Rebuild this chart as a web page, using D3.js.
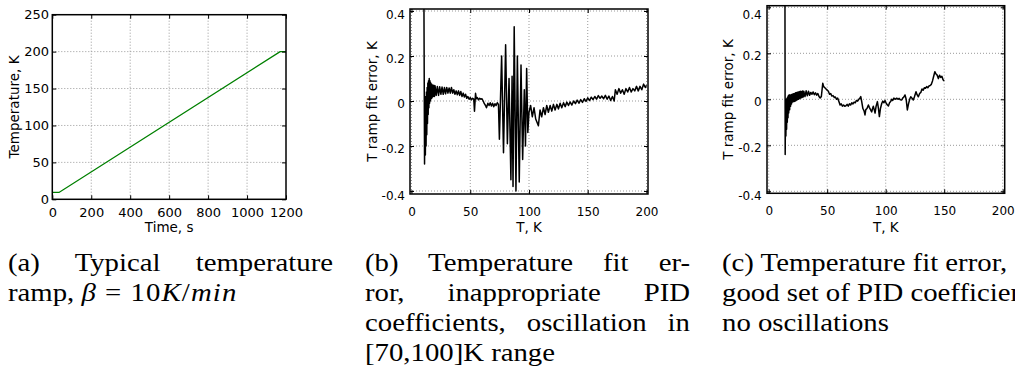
<!DOCTYPE html>
<html><head><meta charset="utf-8">
<script src="https://cdn.jsdelivr.net/npm/d3@7"></script>
<style>
html,body{margin:0;padding:0;background:#fff;overflow:hidden;width:1015px;height:374px;}
#chart{position:absolute;left:0;top:0;}
.cap{position:absolute;font-family:"Liberation Serif","Times New Roman",serif;font-size:25px;line-height:30px;color:#000;transform-origin:0 0;}
.cap div{white-space:nowrap;}
.cap div.j{text-align:justify;text-align-last:justify;white-space:normal;}
.cap .rel{margin:0 8px;}
.cap .m{letter-spacing:1px;}
</style></head><body>
<svg id="chart" width="1015" height="374"></svg>
<div id="captions"></div>
<script>
// ---------- data ----------
const rampTime = [0, 36, 1170, 1200];
const rampTemp = [9.5, 9.5, 200, 200];
const rampXTicks = [0, 200, 400, 600, 800, 1000, 1200];
const rampYTicks = [0, 50, 100, 150, 200, 250];
const errXTicks = [0, 50, 100, 150, 200];
const errYTicks = [-0.4, -0.2, 0, 0.2, 0.4];
const errYTickLabels = ["-0.4", "-0.2", "0", "0.2", "0.4"];

// (b) inappropriate PID coefficients
const badT = [
 10.0, 10.6, 11.1, 11.5, 11.8, 12.1, 12.4, 12.7, 13.0, 13.3, 13.6, 13.9, 14.2, 14.5, 14.8, 15.1, 15.4, 15.7, 16.0, 16.4,
 16.8, 17.2, 17.6, 18.0, 18.5, 19.0, 19.5, 20.0, 21, 22, 23, 24, 25, 26, 27, 28, 29, 30, 31, 32,
 33, 34, 35, 36, 37, 38, 39, 40, 41, 42, 43, 44, 45, 46, 47, 48, 49, 50, 51, 52,
 53, 53.6, 54.5, 55.2, 56, 57, 58, 59, 60, 61, 62, 63, 63.8, 65, 66, 67, 68, 69, 70, 71,
 72, 73, 74, 74.8, 76.7, 78.3, 80.1, 81.6, 83.0, 84.6, 85.6, 86.4, 87.4, 88.9, 90.1, 91.7, 93.2, 94.6, 96.0, 97.0,
 98.0, 99.0, 100.0, 101.4, 102.8, 104.3, 105.7, 108.0, 109.4, 110.8, 112.3, 113.7, 115.1, 116.5, 118.0, 119.4, 120.8, 122.2, 123.7, 125.1,
 126.5, 127.9, 129.4, 130.8, 132.2, 133.6, 135, 136.5, 138, 139.5, 141, 142.5, 144, 145.5, 147, 148.5, 150, 151.5, 153, 154.5,
 156, 157.5, 159, 160.5, 162, 163.5, 165, 166.5, 168, 169.5, 171, 172.5, 173.5, 175, 176.5, 178, 179.5, 181, 182.5, 184,
 185.5, 187, 188.5, 190, 191.5, 193, 194.5, 196, 197.5, 199, 200
];
const badErr = [
 0.9, 0.41, -0.28, 0.00, -0.24, 0.02, -0.20, 0.04, -0.15, 0.06, -0.10, 0.08, -0.06, 0.09, -0.03, 0.10, -0.01, 0.09, 0.00, 0.08,
 0.01, 0.075, 0.015, 0.07, 0.02, 0.07, 0.02, 0.068, 0.025, 0.065, 0.025, 0.063, 0.03, 0.062, 0.03, 0.06, 0.032, 0.06, 0.035, 0.058,
 0.035, 0.06, 0.035, 0.05, 0.03, 0.045, 0.028, 0.045, 0.025, 0.042, 0.02, 0.035, 0.018, 0.03, 0.012, 0.02, 0.008, 0.015, 0.005, 0.012,
 0.008, -0.045, 0.034, 0.01, 0.015, 0.005, 0.012, 0.008, 0.01, 0.0, -0.012, -0.02, -0.03, -0.01, -0.02, -0.008, -0.022, -0.01, -0.025, -0.012,
 -0.02, -0.008, -0.015, -0.17, 0.20, -0.23, 0.25, -0.19, 0.10, -0.35, 0.11, -0.38, 0.33, -0.40, 0.20, -0.36, 0.16, -0.26, 0.05, -0.20,
 0.145, -0.14, -0.05, -0.02, -0.07, -0.03, -0.08, -0.11, -0.04, -0.07, -0.03, -0.06, -0.02, -0.05, -0.02, -0.045, -0.015, -0.04, -0.015, -0.035,
 -0.01, -0.03, -0.008, -0.025, -0.005, -0.02, -0.004, -0.018, 0.0, -0.012, 0.004, -0.01, 0.006, -0.006, 0.01, -0.002, 0.014, 0.002, 0.017, 0.006,
 0.02, 0.008, 0.024, 0.012, 0.022, 0.01, 0.025, 0.008, 0.022, 0.002, 0.02, 0.0, 0.05, 0.03, 0.055, 0.035, 0.05, 0.03, 0.055, 0.04,
 0.06, 0.04, 0.055, 0.045, 0.065, 0.045, 0.065, 0.05, 0.075, 0.06, 0.07
];

// (c) good PID coefficients
const goodT = [
 13.5, 13.9, 14.1, 14.4, 14.7, 15.0, 15.3, 15.6, 15.9, 16.2, 16.5, 16.8, 17.1, 17.5, 17.9, 18.3, 18.7, 19.1, 19.5, 20.0,
 20.5, 21, 21.5, 22, 22.5, 23, 23.5, 24, 24.5, 25, 25.5, 26, 26.5, 27, 27.5, 28, 28.5, 29, 29.5, 30,
 31, 32, 33, 34, 35, 36, 37, 38, 39, 40, 41, 42, 43, 44, 45, 46.2, 47, 48, 49, 50,
 51, 52, 53, 54, 55, 56, 57, 58, 59, 60, 61, 62, 63, 64, 65, 66, 67, 68, 69, 70,
 71, 72, 73, 74, 75, 76, 77, 78, 78.7, 79.5, 80.5, 81.5, 82.3, 83, 84, 85.2, 86, 87, 88, 88.8,
 89.4, 90.2, 90.9, 91.8, 92.9, 93.8, 94.6, 95.5, 96.6, 97.5, 98.5, 99.4, 100.5, 101.5, 102.3, 103.3, 104.2, 105.1, 106, 107,
 108, 109.4, 110.5, 111.5, 112.5, 113.7, 114.5, 115.5, 116.5, 117.5, 118.5, 119.5, 120.5, 121.4, 122.5, 123.6, 124.5, 125.9, 126.8, 127.9,
 129, 130, 131, 132, 133, 134, 135, 136, 137, 138, 139, 140, 141, 142, 143, 144, 145, 146, 147, 148,
 149, 150
];
const goodErr = [
 0.9, 0.41, -0.24, -0.01, -0.16, 0.0, -0.13, 0.005, -0.10, 0.01, -0.08, 0.015, -0.06, 0.02, -0.045, 0.018, -0.03, 0.02, -0.02, 0.022,
 -0.012, 0.024, -0.01, 0.025, -0.008, 0.028, -0.005, 0.03, -0.002, 0.032, 0.0, 0.033, 0.003, 0.035, 0.006, 0.034, 0.008, 0.036, 0.01, 0.035,
 0.012, 0.037, 0.015, 0.035, 0.018, 0.03, 0.022, 0.032, 0.02, 0.028, 0.018, 0.025, 0.012, 0.006, 0.012, 0.07, 0.055, 0.05, 0.045, 0.04,
 0.035, 0.022, 0.025, 0.014, 0.016, 0.008, 0.01, 0.0, 0.005, -0.01, -0.025, -0.02, -0.03, -0.025, -0.03, -0.028, -0.022, -0.03, -0.02, -0.025,
 -0.015, -0.02, -0.012, -0.015, -0.005, -0.008, 0.0, 0.005, 0.012, -0.01, -0.04, -0.05, -0.068, -0.045, -0.04, -0.025, -0.035, -0.045, -0.055, -0.04,
 -0.03, -0.045, -0.06, -0.03, -0.01, -0.04, -0.075, -0.04, -0.018, -0.008, -0.015, -0.005, -0.018, -0.025, -0.029, -0.015, -0.01, 0.0, -0.005, 0.005,
 0.0, 0.005, 0.0, 0.004, -0.002, -0.003, 0.005, 0.01, 0.019, 0.0, -0.046, -0.02, 0.0, 0.011, 0.005, -0.003, 0.01, 0.033, 0.02, 0.011,
 0.025, 0.03, 0.045, 0.04, 0.05, 0.048, 0.055, 0.05, 0.058, 0.06, 0.065, 0.08, 0.1, 0.12, 0.11, 0.105, 0.09, 0.105, 0.095, 0.1,
 0.085, 0.08
];

const captionA = ["(a) Typical temperature", "ramp, <i>β</i><span class=\"rel\">=</span><span class=\"m\">10<i>K</i>/<i>min</i></span>"];
const captionB = ["(b) Temperature fit er-", "ror, inappropriate PID", "coefficients, oscillation in", "[70,100]K range"];
const captionC = ["(c) Temperature fit error,", "good set of PID coefficients,", "no oscillations"];

// ---------- drawing ----------
const svg = d3.select("#chart");
const FONT = "DejaVu Sans";

function panel(cfg) {
  const x = d3.scaleLinear().domain(cfg.xDomain).range([cfg.l, cfg.r]);
  const y = d3.scaleLinear().domain(cfg.yDomain).range([cfg.b, cfg.t]);
  const g = svg.append("g");
  const clipId = "clip-" + cfg.name;
  svg.append("clipPath").attr("id", clipId).append("rect")
    .attr("x", cfg.l).attr("y", cfg.t).attr("width", cfg.r - cfg.l).attr("height", cfg.b - cfg.t);

  // grid
  const gx = cfg.xTicks.filter(v => cfg.edgeGrid || (v > cfg.xDomain[0] && v < cfg.xDomain[1]));
  const gy = cfg.yTicks.filter(v => cfg.edgeGrid || (v > cfg.yDomain[0] && v < cfg.yDomain[1]));
  g.selectAll(".gx").data(gx).join("line")
    .attr("x1", d => x(d)).attr("x2", d => x(d)).attr("y1", cfg.t).attr("y2", cfg.b)
    .attr("stroke", "#999").attr("stroke-width", 1).attr("stroke-dasharray", "1,2");
  g.selectAll(".gy").data(gy).join("line")
    .attr("y1", d => y(d)).attr("y2", d => y(d)).attr("x1", cfg.l).attr("x2", cfg.r)
    .attr("stroke", "#999").attr("stroke-width", 1).attr("stroke-dasharray", "1,2");

  // data
  const idx = d3.range(cfg.xs.length);
  g.append("path").datum(idx)
    .attr("clip-path", `url(#${clipId})`)
    .attr("fill", "none").attr("stroke", cfg.color).attr("stroke-width", cfg.lw)
    .attr("stroke-linejoin", "round")
    .attr("d", d3.line().x(i => x(cfg.xs[i])).y(i => y(cfg.ys[i])));

  // axes
  const fmtY = cfg.yLabels ? (d => cfg.yLabels[cfg.yTicks.indexOf(d)]) : d3.format("d");
  const ax = g.append("g").attr("transform", `translate(0,${cfg.b})`)
    .call(d3.axisBottom(x).tickValues(cfg.xTicks).tickSize(-4).tickPadding(cfg.xPad).tickFormat(d3.format("d")));
  const ay = g.append("g").attr("transform", `translate(${cfg.l},0)`)
    .call(d3.axisLeft(y).tickValues(cfg.yTicks).tickSize(-4).tickPadding(cfg.yPad).tickFormat(fmtY));
  const at = g.append("g").attr("transform", `translate(0,${cfg.t})`)
    .call(d3.axisTop(x).tickValues(cfg.xTicks).tickSize(-4).tickFormat(""));
  const ar = g.append("g").attr("transform", `translate(${cfg.r},0)`)
    .call(d3.axisRight(y).tickValues(cfg.yTicks).tickSize(-4).tickFormat(""));
  [ax, ay, at, ar].forEach(a => {
    a.select(".domain").remove();
    a.selectAll("line").attr("stroke", "#000").attr("stroke-width", 1);
    a.selectAll("text").attr("font-family", FONT).attr("font-size", cfg.tickFont).attr("fill", "#000");
  });
  if (cfg.yShift) ay.selectAll("text").attr("dy", d => cfg.yShift(d, y));

  // frame
  g.append("rect").attr("x", cfg.l).attr("y", cfg.t).attr("width", cfg.r - cfg.l).attr("height", cfg.b - cfg.t)
    .attr("fill", "none").attr("stroke", "#000").attr("stroke-width", 1.5);

  // titles
  g.append("text").attr("x", (cfg.l + cfg.r) / 2).attr("y", cfg.xTitleY).attr("text-anchor", "middle")
    .attr("font-family", FONT).attr("font-size", cfg.titleFont).text(cfg.xTitle);
  g.append("text").attr("transform", `translate(${cfg.yTitleX},${(cfg.t + cfg.b) / 2}) rotate(-90)`)
    .attr("text-anchor", "middle").attr("font-family", FONT).attr("font-size", cfg.titleFont).text(cfg.yTitle);
}

panel({name: "a", l: 52.3, r: 286, t: 14.7, b: 199.3,
  xDomain: [0, 1200], yDomain: [0, 250], xTicks: rampXTicks, yTicks: rampYTicks, edgeGrid: false,
  xs: rampTime, ys: rampTemp, color: "#008000", lw: 1.2,
  xPad: 8, yPad: 3.3, tickFont: 13, titleFont: 13.5,
  xTitle: "Time, s", xTitleY: 232, yTitle: "Temperature, K", yTitleX: 18.5});

function errShift(d, y) {
  const gyv = y(d);
  const target = d === -0.4 ? gyv + 4.5 : Math.max(gyv + 2.5, 15);
  return ((target - gyv) / 12 + 0.32) + "em";
}

panel({name: "b", l: 410, r: 648, t: 9, b: 194,
  xDomain: [-1.28, 201.28], yDomain: [-0.4133, 0.4089], xTicks: errXTicks, yTicks: errYTicks, yLabels: errYTickLabels, edgeGrid: true,
  xs: badT, ys: badErr, color: "#000", lw: 1.5,
  xPad: 13.5, yPad: 5, tickFont: 12, titleFont: 13.5, yShift: errShift,
  xTitle: "T, K", xTitleY: 231.5, yTitle: "T ramp fit error, K", yTitleX: 376.5});

panel({name: "c", l: 767, r: 1004.7, t: 5.7, b: 193.3,
  xDomain: [-1.45, 201.7], yDomain: [-0.4087, 0.407], xTicks: errXTicks, yTicks: errYTicks, yLabels: errYTickLabels, edgeGrid: true,
  xs: goodT, ys: goodErr, color: "#000", lw: 1.5,
  xPad: 13.2, yPad: 5.3, tickFont: 12, titleFont: 13.5, yShift: errShift,
  xTitle: "T, K", xTitleY: 231.5, yTitle: "T ramp fit error, K", yTitleX: 733});

// captions
const K = 1.15, CAPW = 325;
function caption(lines, left, justify) {
  const div = d3.select("#captions").append("div").attr("class", "cap")
    .style("left", left + "px").style("top", "248px")
    .style("width", (CAPW / K) + "px").style("transform", `scaleX(${K})`);
  lines.forEach((ln, i) => {
    div.append("div").attr("class", justify && i < lines.length - 1 ? "j" : null).html(ln);
  });
}
caption(captionA, 8, true);
caption(captionB, 365, true);
caption(captionC, 722, false);
</script>
</body></html>
